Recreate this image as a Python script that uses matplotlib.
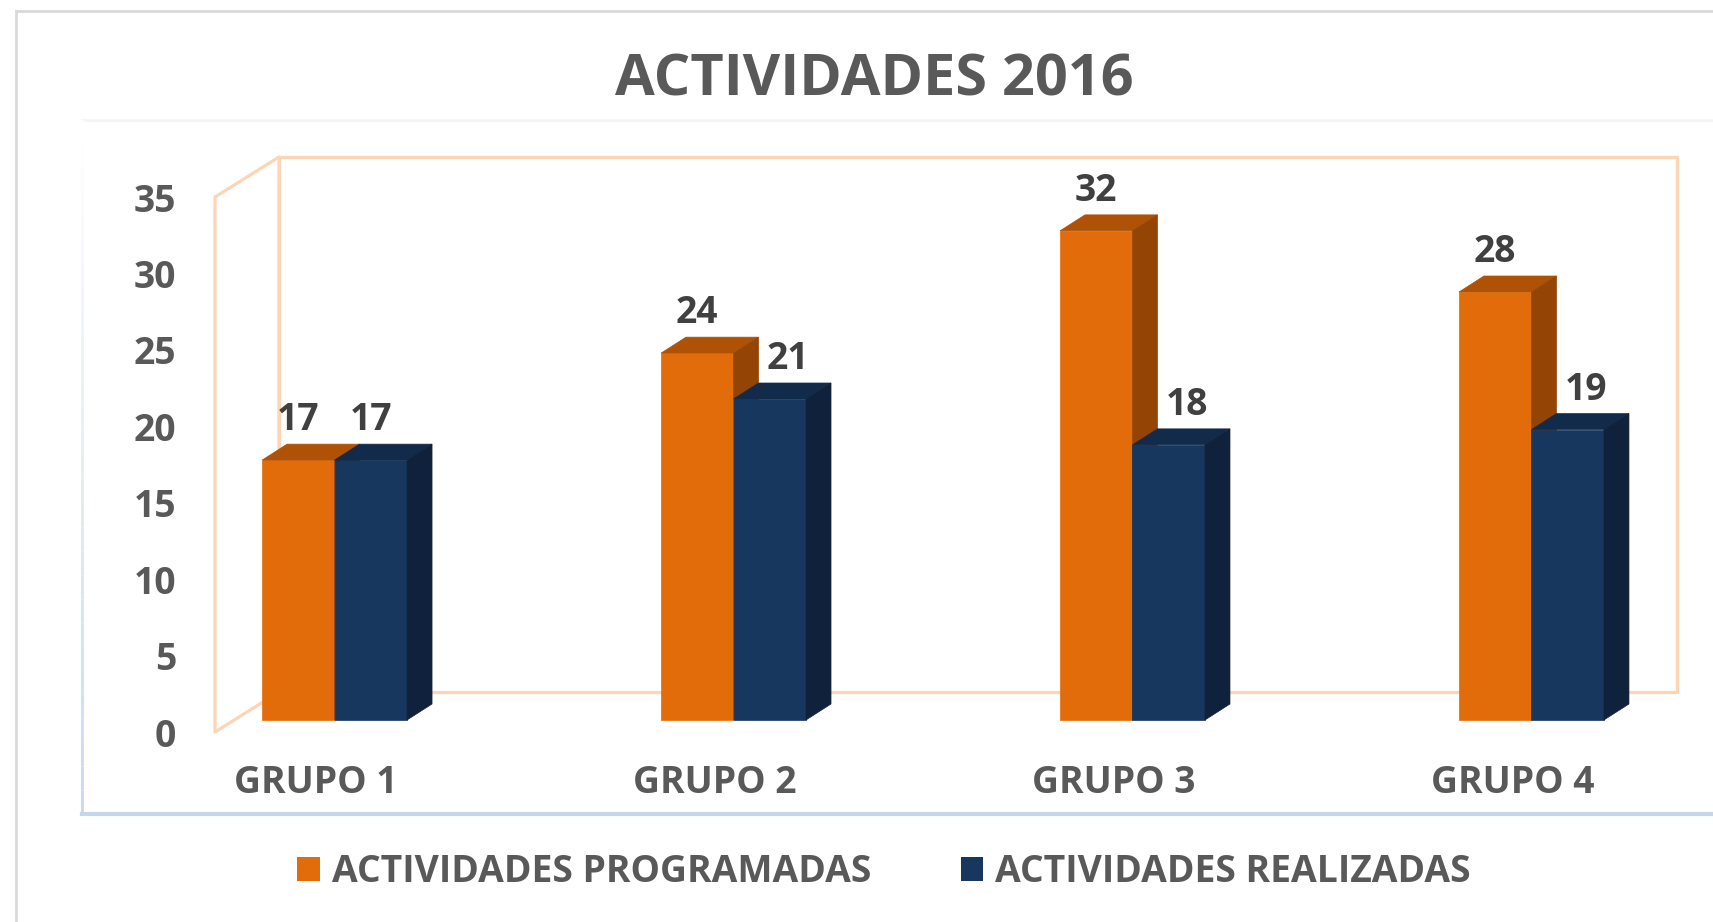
import matplotlib
matplotlib.use("Agg")
import matplotlib.pyplot as plt
from matplotlib.patches import Polygon, Patch
from matplotlib.lines import Line2D
import numpy as np

# ---------------- data ----------------
categories = ["GRUPO 1", "GRUPO 2", "GRUPO 3", "GRUPO 4"]
programadas = [17, 24, 32, 28]
realizadas = [17, 21, 18, 19]
series_names = ["ACTIVIDADES PROGRAMADAS", "ACTIVIDADES REALIZADAS"]
yticks = [0, 5, 10, 15, 20, 25, 30, 35]
title = "ACTIVIDADES 2016"

# ---------------- style ----------------
W, H, DPI = 1713, 922, 100
FONT = ["Open Sans", "DejaVu Sans"]
plt.rcParams["font.family"] = FONT
plt.rcParams["font.weight"] = "bold"
FS = 26.8

face_cols = {  # front, top, side
    0: ("#E36C0A", "#AF5206", "#944505"),
    1: ("#17375E", "#132B4B", "#10223B"),
}
wall_col = "#FCD5B4"
text_gray = "#595959"
label_dark = "#404040"

fig = plt.figure(figsize=(W / DPI, H / DPI), dpi=DPI)
fig.patch.set_facecolor("white")

# axes = front plane of the 3-D box (pixels)
L, R, T, B = 215, 1613, 197, 732
ax = fig.add_axes([L / W, 1 - B / H, (R - L) / W, (B - T) / H])
ax.set_xlim(-0.252, len(categories) - 1 + 0.252)
ax.set_ylim(0, 35)
ax.patch.set_alpha(0)
for s in ax.spines.values():
    s.set_visible(False)

# pixel -> data conversions
px_x = (R - L) / (ax.get_xlim()[1] - ax.get_xlim()[0])
px_y = (B - T) / 35.0
def dx(p):
    return p / px_x
def dy(p):
    return p / px_y

# depth offsets (pixels: right, up)
bar_front = (19, 12)
bar_back = (44, 28)
wall = (64, 40)

x0, x1 = ax.get_xlim()
ymax = 35
# left wall outline
lw_pts = [(x0, 0), (x0, ymax), (x0 + dx(wall[0]), ymax + dy(wall[1])), (x0 + dx(wall[0]), dy(wall[1]))]
ax.add_patch(Polygon(lw_pts, closed=True, fill=False, ec=wall_col, lw=2.3, clip_on=False, zorder=1, joinstyle="round"))
# back wall outline
bw_pts = [(x0 + dx(wall[0]), dy(wall[1])), (x0 + dx(wall[0]), ymax + dy(wall[1])),
          (x1 + dx(wall[0]), ymax + dy(wall[1])), (x1 + dx(wall[0]), dy(wall[1]))]
ax.add_patch(Polygon(bw_pts, closed=True, fill=False, ec=wall_col, lw=2.3, clip_on=False, zorder=1, joinstyle="round"))

bw = 72.5 / px_x  # bar width in category units
fx, fy = dx(bar_front[0]), dy(bar_front[1])
ddx, ddy = dx(bar_back[0] - bar_front[0]), dy(bar_back[1] - bar_front[1])

z = 3
for i, cat in enumerate(categories):
    for k, vals in enumerate([programadas, realizadas]):
        v = vals[i]
        front, top, side = face_cols[k]
        xa = i - bw + k * bw + fx
        xb = xa + bw
        ya, yb = fy, v + fy
        # front face
        ax.add_patch(Polygon([(xa, ya), (xb, ya), (xb, yb), (xa, yb)], closed=True,
                             fc=front, ec=front, lw=0.5, clip_on=False, zorder=z))
        # top face
        ax.add_patch(Polygon([(xa, yb), (xb, yb), (xb + ddx, yb + ddy), (xa + ddx, yb + ddy)], closed=True,
                             fc=top, ec=top, lw=0.5, clip_on=False, zorder=z))
        # side face
        ax.add_patch(Polygon([(xb, ya), (xb + ddx, ya + ddy), (xb + ddx, yb + ddy), (xb, yb)], closed=True,
                             fc=side, ec=side, lw=0.5, clip_on=False, zorder=z))
        z += 1
        # data label
        shift = 0
        if k == 1 and programadas[i] > realizadas[i]:
            shift = 18
        ax.annotate(str(v), xy=((xa + xb) / 2, yb), xytext=(shift, 40), textcoords="offset pixels",
                    ha="center", va="center", fontsize=FS, fontweight="bold", color=label_dark,
                    zorder=50, annotation_clip=False)

# axes ticks
ax.set_yticks(yticks)
ax.set_yticklabels([str(t) for t in yticks])
ax.set_xticks(range(len(categories)))
ax.set_xticklabels(categories)
ax.tick_params(axis="y", length=0, pad=28, labelsize=FS, labelcolor=text_gray)
ax.tick_params(axis="x", length=0, pad=23, labelsize=FS, labelcolor=text_gray)
for lab in ax.get_xticklabels() + ax.get_yticklabels():
    lab.set_fontweight("bold")

# title
fig.text(874 / W, 1 - 80 / H, title, ha="center", va="center", fontsize=41.5,
         fontweight="bold", color=text_gray)

# legend
handles = [Patch(fc=face_cols[0][0], ec="none"), Patch(fc=face_cols[1][0], ec="none")]
fig.legend(handles, series_names, loc="center", bbox_to_anchor=(884 / W, 1 - 872 / H), ncol=2,
           frameon=False, labelcolor=text_gray, handlelength=0.6, handleheight=0.6,
           handletextpad=0.33, columnspacing=2.4, prop={"weight": "bold", "size": FS})

# chart / plot area borders (figure pixels)
def fline(xs, ys, **kw):
    fig.add_artist(Line2D([x / W for x in xs], [1 - y / H for y in ys], transform=fig.transFigure, **kw))

fline([16, 16], [11, 922], color="#D9D9D9", lw=2)
fline([16, 1713], [11, 11], color="#D9D9D9", lw=2)
fline([82, 1713], [120, 120], color="#F1F5FA", lw=2)
# gradient left edge of plot area
ys = np.linspace(120, 814, 30)
cols = np.linspace(0, 1, 29)
for j in range(29):
    c = np.array([1, 1, 1]) * (1 - cols[j]) + np.array([0.78, 0.85, 0.93]) * cols[j]
    fline([82, 82], [ys[j], ys[j + 1]], color=c, lw=2, solid_capstyle="butt")
fline([82, 1713], [814, 814], color="#C6D6EA", lw=3)

fig.savefig("out.png", dpi=DPI, facecolor="white")
